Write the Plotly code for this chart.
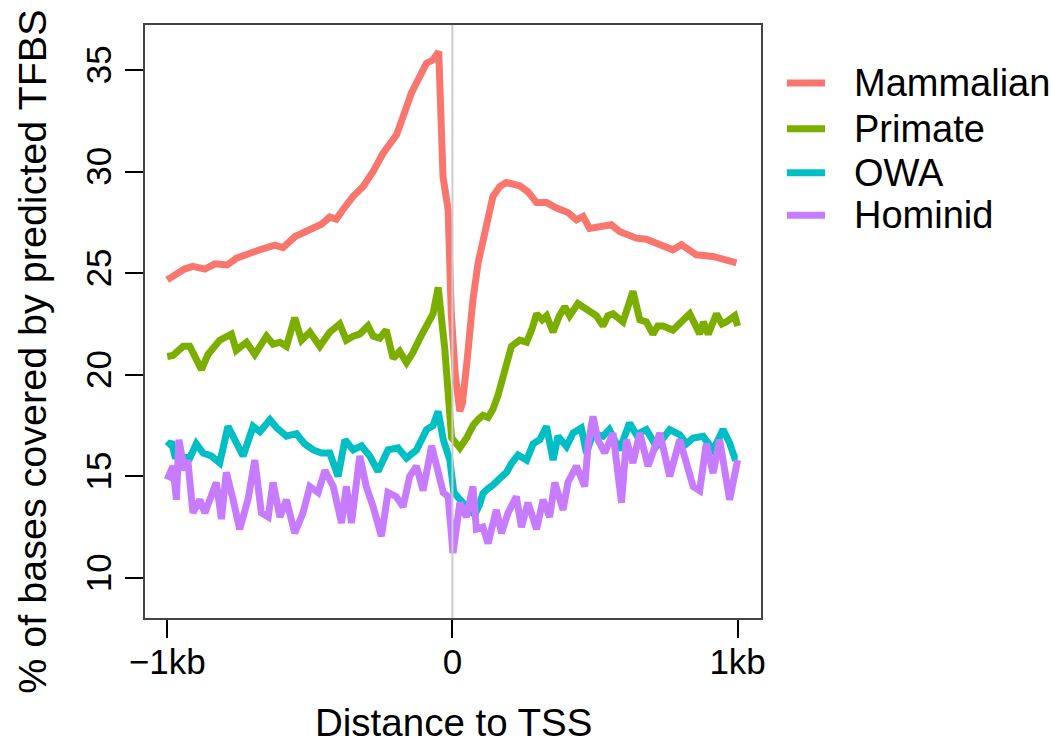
import plotly.graph_objects as go

# Distance to TSS (kb) and % of bases covered by predicted TFBS, per conservation class
mam_x = [-1.0, -0.96, -0.94, -0.91, -0.868, -0.833, -0.79, -0.757, -0.722, -0.675, -0.623,
         -0.594, -0.552, -0.5, -0.459, -0.43, -0.407, -0.384, -0.349, -0.313, -0.278,
         -0.243, -0.196, -0.173, -0.144, -0.115, -0.091, -0.068, -0.048, -0.033, -0.015,
         -0.004, 0.01, 0.026, 0.035, 0.05, 0.061, 0.072, 0.09, 0.107, 0.125, 0.142, 0.166,
         0.189, 0.236, 0.265, 0.295, 0.33, 0.365, 0.405, 0.435, 0.458, 0.481, 0.516, 0.557,
         0.586, 0.645, 0.68, 0.727, 0.773, 0.803, 0.855, 0.914, 0.949, 0.996]
mam_y = [24.67, 25.0, 25.2, 25.33, 25.2, 25.46, 25.4, 25.74, 25.95, 26.15, 26.38,
         26.26, 26.8, 27.13, 27.41, 27.76, 27.66, 28.12, 28.77, 29.26, 30.0,
         30.9, 31.8, 32.7, 33.86, 34.67, 35.33, 35.5, 35.9, 29.75, 28.1,
         23.0, 20.0, 18.2, 18.6, 20.5, 22.2, 23.7, 25.5, 26.5, 27.8, 28.77, 29.26,
         29.46, 29.3, 29.0, 28.47, 28.47, 28.2, 27.98, 27.62, 27.79, 27.2, 27.27, 27.38,
         27.05, 26.72, 26.67, 26.4, 26.15, 26.4, 25.9, 25.82, 25.65, 25.5]

pri_x = [-1.0, -0.98, -0.944, -0.921, -0.88, -0.857, -0.816, -0.775, -0.758, -0.722,
         -0.693, -0.652, -0.629, -0.605, -0.582, -0.553, -0.529, -0.5, -0.465, -0.43,
         -0.395, -0.372, -0.348, -0.325, -0.296, -0.278, -0.255, -0.232, -0.208, -0.185,
         -0.161, -0.138, -0.114, -0.091, -0.068, -0.05, -0.027, -0.003, 0.026, 0.05,
         0.072, 0.09, 0.107, 0.125, 0.142, 0.16, 0.177, 0.195, 0.207, 0.236, 0.26, 0.28,
         0.295, 0.315, 0.33, 0.353, 0.375, 0.394, 0.411, 0.44, 0.47, 0.505, 0.528, 0.545,
         0.563, 0.598, 0.633, 0.657, 0.68, 0.703, 0.72, 0.738, 0.773, 0.797, 0.832, 0.85,
         0.867, 0.88, 0.897, 0.926, 0.945, 0.96, 0.99, 1.0]
pri_y = [20.9, 20.95, 21.4, 21.4, 20.25, 21.0, 21.7, 22.0, 21.2, 21.6,
         21.0, 21.9, 21.5, 21.6, 21.4, 22.8, 21.7, 22.1, 21.4, 22.1,
         22.5, 21.7, 21.9, 22.0, 22.4, 21.9, 21.8, 22.2, 20.8, 21.15,
         20.6, 21.1, 21.8, 22.5, 23.0, 24.3, 21.3, 16.9, 16.4, 16.9,
         17.5, 17.8, 18.0, 17.9, 18.3, 19.0, 19.9, 20.8, 21.4, 21.7, 21.6, 22.3,
         23.0, 22.7, 22.9, 22.1, 22.9, 23.35, 22.9, 23.5, 23.2, 22.9, 22.4, 22.9,
         23.0, 22.6, 24.1, 22.7, 22.6, 22.0, 22.4, 22.4, 22.2, 22.5, 23.0, 22.5,
         22.0, 22.6, 22.0, 23.0, 22.5, 22.6, 22.9, 22.4]

owa_x = [-1.0, -0.985, -0.973, -0.944, -0.921, -0.898, -0.874, -0.845, -0.816, -0.787,
         -0.763, -0.734, -0.699, -0.675, -0.64, -0.617, -0.582, -0.547, -0.518, -0.488,
         -0.459, -0.43, -0.401, -0.377, -0.348, -0.319, -0.29, -0.261, -0.226, -0.191,
         -0.161, -0.126, -0.091, -0.068, -0.05, -0.032, -0.009, 0.005, 0.03, 0.055,
         0.078, 0.095, 0.107, 0.125, 0.142, 0.172, 0.19, 0.207, 0.23, 0.26, 0.283, 0.306,
         0.33, 0.353, 0.37, 0.4, 0.423, 0.452, 0.47, 0.493, 0.528, 0.55, 0.586, 0.621,
         0.645, 0.68, 0.715, 0.74, 0.762, 0.797, 0.82, 0.844, 0.879, 0.914, 0.949, 0.972,
         0.99, 1.0]
owa_y = [16.47, 16.7, 16.0, 15.9, 15.9, 16.6, 16.15, 16.0, 15.66, 17.46,
         16.8, 16.0, 17.46, 17.2, 17.79, 17.4, 16.98, 17.1, 16.6, 16.3,
         16.15, 16.15, 15.0, 16.8, 16.3, 16.5, 16.0, 15.25, 16.3, 16.4,
         15.9, 16.3, 17.3, 17.5, 18.2, 16.8, 15.8, 14.2, 13.8, 13.4,
         13.1, 13.6, 14.16, 14.4, 14.57, 14.98, 15.2, 15.64, 16.05, 15.8, 16.6, 16.8,
         17.46, 15.8, 16.97, 16.47, 17.13, 17.38, 16.15, 17.13, 16.97, 17.3, 16.3, 17.63,
         17.05, 17.3, 16.47, 16.9, 17.3, 17.05, 16.6, 16.88, 16.97, 16.3, 17.3, 16.64,
         15.9, 15.9]

hom_x = [-1.0, -0.98, -0.968, -0.959, -0.94, -0.928, -0.91, -0.886, -0.868, -0.845,
         -0.828, -0.81, -0.793, -0.769, -0.746, -0.717, -0.693, -0.67, -0.646, -0.629,
         -0.605, -0.582, -0.553, -0.524, -0.5, -0.471, -0.447, -0.418, -0.389, -0.372,
         -0.354, -0.325, -0.302, -0.278, -0.249, -0.226, -0.197, -0.173, -0.15, -0.126,
         -0.103, -0.073, -0.056, -0.032, -0.015, 0.002, 0.026, 0.049, 0.072, 0.084,
         0.107, 0.125, 0.154, 0.172, 0.195, 0.224, 0.242, 0.265, 0.295, 0.318, 0.341,
         0.359, 0.388, 0.405, 0.435, 0.464, 0.476, 0.493, 0.51, 0.534, 0.563, 0.593,
         0.61, 0.633, 0.657, 0.686, 0.727, 0.762, 0.797, 0.844, 0.867, 0.89, 0.914,
         0.937, 0.972, 1.0]
hom_y = [14.84, 15.5, 13.85, 16.8, 15.3, 15.8, 13.2, 13.85, 13.2, 14.0,
         14.7, 12.9, 15.2, 13.85, 12.4, 13.85, 15.8, 13.2, 13.0, 14.7,
         13.0, 13.85, 12.2, 13.2, 14.5, 14.2, 15.3, 14.5, 12.7, 14.5,
         12.7, 16.0, 14.5, 13.5, 12.05, 14.2, 14.0, 13.5, 15.0, 15.5,
         14.3, 16.5, 15.5, 14.2, 14.0, 11.23, 13.7, 13.0, 14.5, 12.4,
         12.5, 11.7, 13.35, 12.2, 13.2, 14.0, 12.5, 13.7, 12.4, 13.85, 13.0,
         14.7, 13.35, 14.7, 15.5, 14.5, 16.6, 17.95, 16.8, 16.15, 17.13, 13.7,
         16.8, 15.66, 17.13, 15.5, 17.13, 15.0, 16.8, 14.5, 14.3, 16.6, 15.16,
         16.8, 13.85, 15.8]

series = [
    ("Mammalian", mam_x, mam_y, "#F8766D"),
    ("Primate", pri_x, pri_y, "#7CAE00"),
    ("OWA", owa_x, owa_y, "#00BFC4"),
    ("Hominid", hom_x, hom_y, "#C77CFF"),
]

tick_vals_x = [-1, 0, 1]
tick_text_x = ["\u22121kb", "0", "1kb"]
tick_vals_y = [10, 15, 20, 25, 30, 35]

FONT = "Liberation Sans, Arial, Helvetica, sans-serif"
LINE_W = 7

fig = go.Figure()
for name, xs, ys, color in series:
    fig.add_trace(go.Scatter(
        x=xs, y=ys, mode="lines", name=name,
        line=dict(color=color, width=LINE_W),
        showlegend=False,
    ))

# reference line at the TSS
fig.add_shape(type="line", xref="x", yref="paper", x0=0, x1=0, y0=0, y1=1,
              line=dict(color="#cccccc", width=2), layer="above")

# key to the right of the panel: a short coloured stroke and the class name per row
key_rows_y = [0.902, 0.825, 0.751, 0.679]
annotations = []
for (name, _, _, color), ky in zip(series, key_rows_y):
    fig.add_shape(type="line", xref="paper", yref="paper",
                  x0=1.042, x1=1.104, y0=ky, y1=ky,
                  line=dict(color=color, width=LINE_W))
    annotations.append(dict(
        text=name, xref="paper", yref="paper", x=1.1477, y=ky,
        xanchor="left", yanchor="middle", showarrow=False,
        font=dict(size=38, family=FONT, color="black")))

annotations += [
    dict(text="Distance to TSS", xref="paper", yref="paper",
         x=0.5, y=-0.177, xanchor="center", yanchor="middle", showarrow=False,
         font=dict(size=38.5, family=FONT, color="black")),
    dict(text="% of bases covered by predicted TFBS", xref="paper", yref="paper",
         x=-0.1834, y=0.449, xanchor="center", yanchor="middle", showarrow=False,
         textangle=-90, font=dict(size=39.5, family=FONT, color="black")),
]

fig.update_layout(
    width=1051, height=747,
    margin=dict(l=145, r=290, t=25, b=129),
    paper_bgcolor="white", plot_bgcolor="white",
    font=dict(family=FONT, size=35, color="black"),
    showlegend=False,
    xaxis=dict(
        range=[-1.078, 1.082], tickmode="array", tickvals=tick_vals_x, ticktext=tick_text_x,
        ticks="outside", ticklen=18, tickwidth=2, tickcolor="black",
        showline=True, mirror=True, linecolor="#444444", linewidth=2,
        showgrid=False, zeroline=False, ticklabelstandoff=-6,
        tickfont=dict(size=35, family=FONT, color="black"),
    ),
    yaxis=dict(
        range=[8.03, 37.21], tickmode="array", tickvals=tick_vals_y,
        ticks="outside", ticklen=18, tickwidth=2, tickcolor="black",
        showline=True, mirror=True, linecolor="#444444", linewidth=2,
        showgrid=False, zeroline=False, tickangle=-90,
        tickfont=dict(size=35, family=FONT, color="black"),
    ),
    annotations=annotations,
)

fig.write_html("out.html")
